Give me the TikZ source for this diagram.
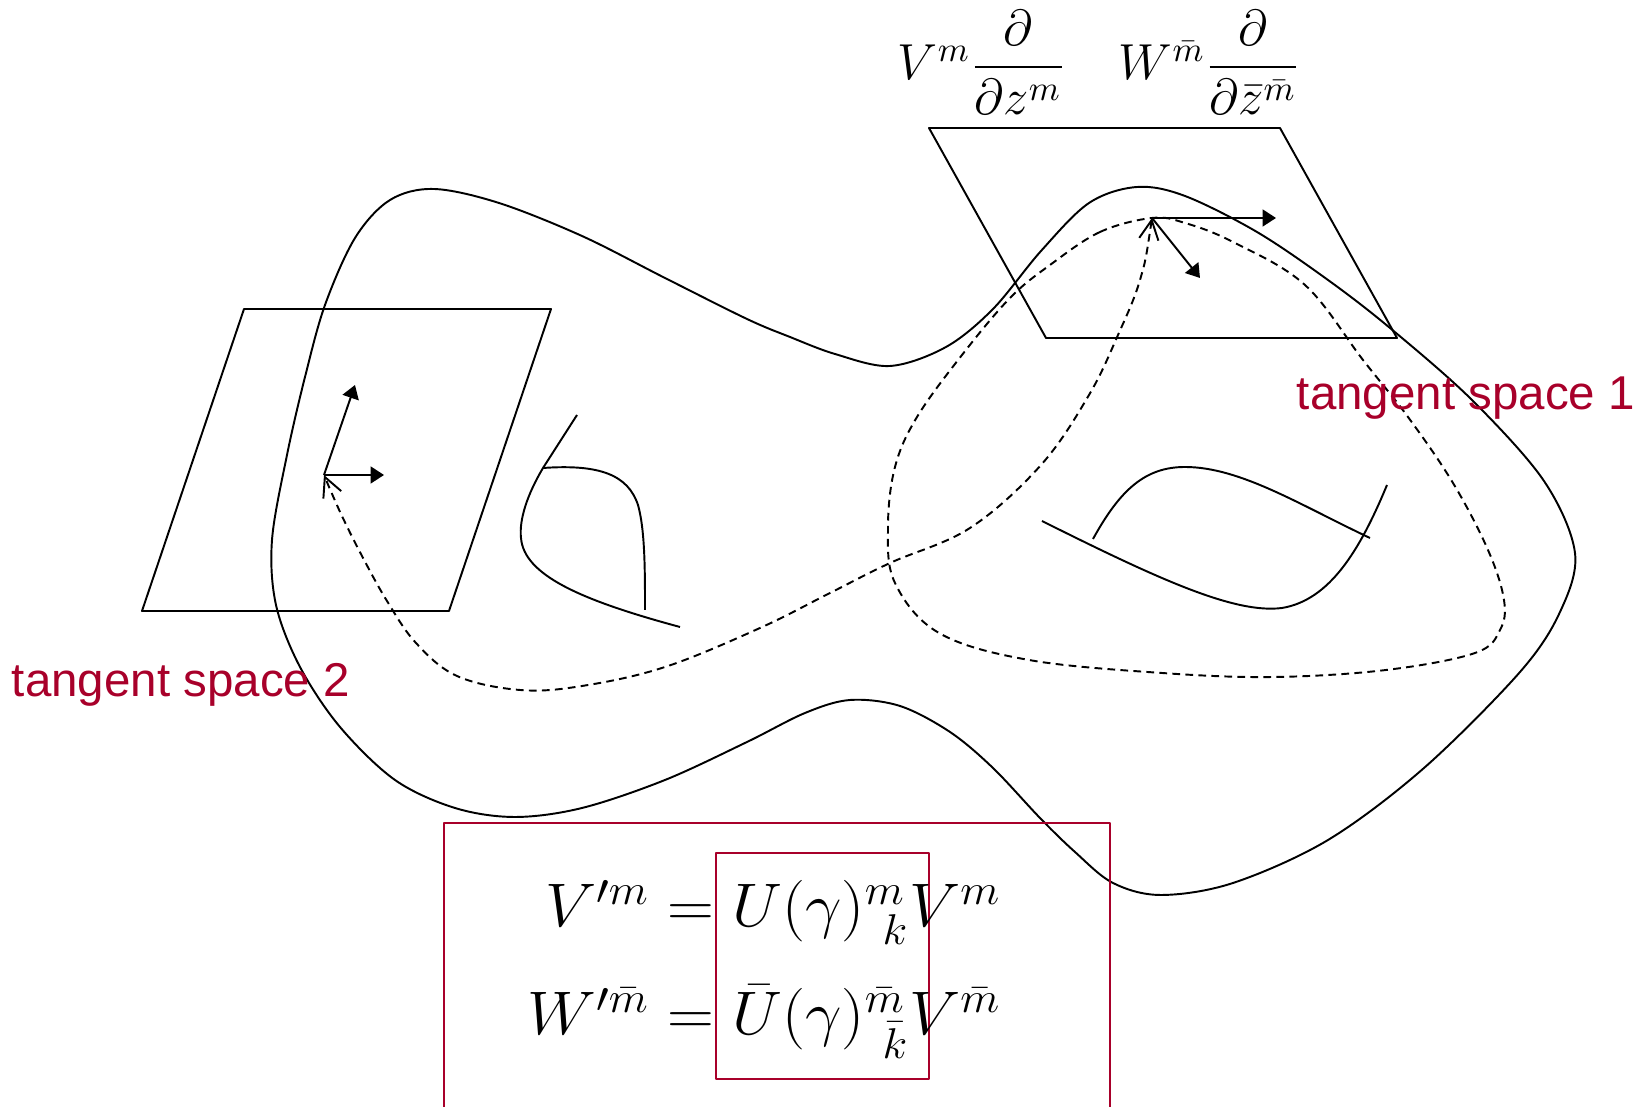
\RequirePackage{fix-cm}
\documentclass[tikz,border=0pt]{standalone}
\usepackage{fontspec}
\usepackage{amsmath}
\newfontfamily\labelfont{Liberation Sans}
\usetikzlibrary{arrows.meta}
\definecolor{tsred}{RGB}{168,0,42}
\begin{document}
\begin{tikzpicture}[x=0.01cm,y=-0.01cm,line width=0.55pt,line join=round,
  dashcurve/.style={dash pattern=on 2.2pt off 1.5pt},
  vecarrow/.style={-{Triangle[length=3.8pt,width=4.8pt]}},
  barbs/.style={{Straight Barb[length=5.5pt,width=5.5pt]}-{Straight Barb[length=5.5pt,width=5.5pt]}},
  tslabel/.style={text=tsred,font=\labelfont\fontsize{13.5}{16}\selectfont,inner sep=0pt,anchor=base west},
  eqlabel/.style={inner sep=0pt,anchor=base east,font=\fontsize{17.5}{21}\selectfont},
  toplabel/.style={inner sep=0pt,anchor=base west,font=\fontsize{14.4}{18}\selectfont},
  redbox/.style={draw=tsred,line width=0.6pt}]
\useasboundingbox (0,0) rectangle (1641,1107);

% manifold outline
\draw plot[smooth cycle,tension=0.55] coordinates {
 (434,189) (390,200) (355,238) (325,305) (305,377) (287,455) (272,540) (276,605)
 (300,667) (340,727) (395,780) (455,808) (515,817) (582,808) (665,780) (747,742)
 (805,713) (850,700) (900,706) (950,732) (993,768) (1040,818) (1075,852) (1113,883)
 (1161,895) (1233,883) (1328,840) (1424,768) (1520,672) (1560,612) (1575,553) (1544,481)
 (1472,400) (1390,328) (1328,280) (1257,232) (1185,196) (1137,187) (1089,203) (1041,251)
 (993,309) (946,347) (890,366) (835,354) (790,337) (747,319) (665,278) (582,236) (499,203)};

% holes
\draw (577,415) -- (543,468) .. controls (527,495) and (519,520) .. (521,538)
      .. controls (524,575) and (580,600) .. (680,627);
\draw (543,468) .. controls (600,464) and (628,475) .. (638,505)
      .. controls (645,530) and (645,570) .. (645,610);
\draw (1042,521) .. controls (1160,580) and (1235,614) .. (1282,608)
      .. controls (1330,600) and (1360,550) .. (1387,485);
\draw (1093,539) .. controls (1120,490) and (1145,467) .. (1185,467)
      .. controls (1240,467) and (1300,505) .. (1370,538);

% tangent planes
\draw (929,128) -- (1280,128) -- (1397,338) -- (1046,338) -- cycle;
\draw (244,309) -- (551,309) -- (449,611) -- (142,611) -- cycle;

% points and vectors
\coordinate (p1) at (1152,218);
\coordinate (p1a) at (1276,218);
\coordinate (p1b) at (1200,278);
\coordinate (p2) at (324,475);
\coordinate (p2a) at (384,475);
\coordinate (p2b) at (355,385);
\draw[vecarrow] (p1) -- (p1a);
\draw[vecarrow] (p1) -- (p1b);
\draw[vecarrow] (p2) -- (p2a);
\draw[vecarrow] (p2) -- (p2b);

% dashed loop through p1
\draw[dashcurve] plot[smooth cycle,tension=0.6] coordinates {
 (p1) (1100,232) (1050,265) (1010,298) (962,355) (917,417) (895,467) (888,527)
 (895,583) (939,633) (1029,660) (1162,673) (1274,677) (1386,670) (1475,653) (1500,630)
 (1504,600) (1488,550) (1453,483) (1408,417) (1363,360) (1305,285) (1233,242) (1185,223)};

% dashed transport path p1 -> p2
\draw[dashcurve,barbs] plot[smooth,tension=0.6] coordinates {
 (p1) (1140,280) (1118,335) (1089,395) (1041,465) (970,528) (890,563) (830,593)
 (760,628) (665,667) (582,686) (520,690) (457,676) (416,643) (387,601) (362,556)
 (341,514) (p2)};

% labels
\node[tslabel] (ts1) at (1296,410) {tangent space 1};
\node[tslabel] (ts2) at (11,697) {tangent space 2};
\node[toplabel] (fv) at (897,80) {$V^m\dfrac{\partial}{\partial z^m}$};
\node[toplabel] (fw) at (1118,80) {$W^{\bar m}\dfrac{\partial}{\partial \bar z^{\bar m}}$};

% transformation box
\draw[redbox] (444,1115) -- (444,823) -- (1110,823) -- (1110,1115);
\draw[redbox] (716,853) rectangle (929,1079);
\node[eqlabel] (eq1) at (1002,927) {\scalebox{1.055}[1]{$V'^{m}=U(\gamma)^{m}_{\mkern7mu k}V^{m}$}};
\node[eqlabel] (eq2) at (1002,1035) {\scalebox{1.055}[1]{$W'^{\bar m}=\bar U(\gamma)^{\bar m}_{\mkern7mu \bar k}V^{\bar m}$}};
\end{tikzpicture}
\end{document}
